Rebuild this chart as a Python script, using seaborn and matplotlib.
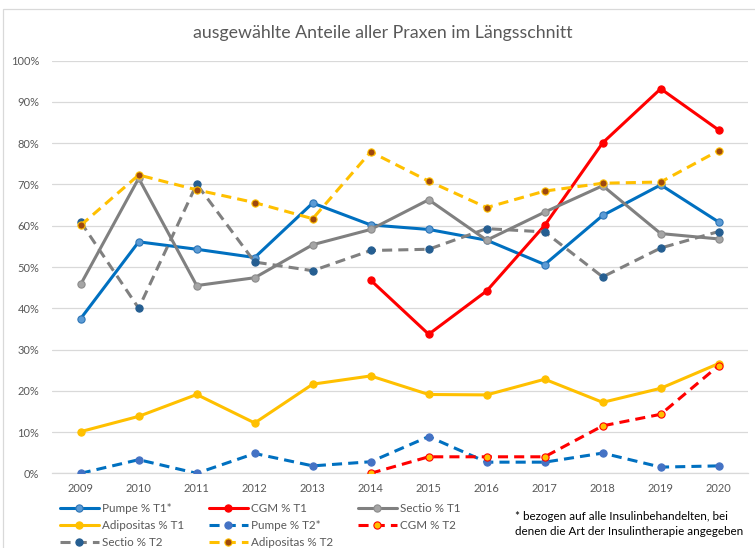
import matplotlib
matplotlib.use("Agg")
import matplotlib.pyplot as plt
from matplotlib.lines import Line2D
from matplotlib.patches import Rectangle
import seaborn as sns
import numpy as np
import pandas as pd

years = [2009, 2010, 2011, 2012, 2013, 2014, 2015, 2016, 2017, 2018, 2019, 2020]
nan = np.nan
pumpe_t1 = [37.5, 56.1, 54.3, 52.3, 65.5, 60.2, 59.1, 56.5, 50.6, 62.5, 69.9, 60.9]
cgm_t1 = [nan, nan, nan, nan, nan, 46.8, 33.7, 44.2, 60.1, 80.1, 93.2, 83.2]
sectio_t1 = [45.8, 71.5, 45.5, 47.4, 55.4, 59.1, 66.3, 56.5, 63.3, 69.7, 58.1, 56.8]
adipositas_t1 = [10.1, 13.8, 19.1, 12.2, 21.6, 23.6, 19.1, 19.0, 22.8, 17.2, 20.6, 26.6]
pumpe_t2 = [0.0, 3.3, 0.0, 4.8, 1.8, 2.8, 8.9, 2.7, 2.7, 4.9, 1.5, 1.8]
cgm_t2 = [nan, nan, nan, nan, nan, 0.0, 4.0, 4.0, 4.0, 11.5, 14.3, 26.1]
sectio_t2 = [60.9, 40.0, 70.1, 51.2, 49.1, 54.0, 54.3, 59.3, 58.5, 47.6, 54.6, 58.6]
adipositas_t2 = [60.1, 72.3, 68.7, 65.6, 61.7, 77.9, 70.8, 64.4, 68.4, 70.3, 70.6, 78.2]

title = "ausgewählte Anteile aller Praxen im Längsschnitt"
note = "* bezogen auf alle Insulinbehandelten, bei\ndenen die Art der Insulintherapie angegeben"

sns.set_style("white")
plt.rcParams['font.family'] = ['Lato', 'DejaVu Sans']

W, H = 755, 548
fig = plt.figure(figsize=(W / 100, H / 100), dpi=100)
ax = fig.add_axes([51.7 / W, 1 - 473.3 / H, (747.7 - 51.7) / W, (473.3 - 60.7) / H])

dash = (0, (3.3, 2.0))
series = [
    ("Pumpe % T1*", pumpe_t1, "#0070C0", "-", "#5B9BD5", "#2E75B6"),
    ("CGM % T1", cgm_t1, "#FF0000", "-", "#FF0000", "#FF0000"),
    ("Sectio % T1", sectio_t1, "#808080", "-", "#A5A5A5", "#8C8C8C"),
    ("Adipositas % T1", adipositas_t1, "#FFC000", "-", "#FFC000", "#FFC000"),
    ("Pumpe % T2*", pumpe_t2, "#0070C0", dash, "#4472C4", "#4472C4"),
    ("CGM % T2", cgm_t2, "#FF0000", dash, "#FFC000", "#FF0000"),
    ("Sectio % T2", sectio_t2, "#808080", dash, "#255E91", "#255E91"),
    ("Adipositas % T2", adipositas_t2, "#FFC000", dash, "#9E480E", "#FFC000"),
]

handles = {}
for name, vals, col, ls, mfc, mec in series:
    df = pd.DataFrame({"Jahr": years, "Wert": vals}).dropna()
    sns.lineplot(data=df, x="Jahr", y="Wert", ax=ax, color=col, linestyle=ls,
                 linewidth=2.2, marker="o", markersize=5.2, markerfacecolor=mfc,
                 markeredgecolor=mec, markeredgewidth=0.8, zorder=3)
    handles[name] = Line2D([], [], color=col, linestyle=ls, linewidth=2.2, marker="o",
                           markersize=5.2, markerfacecolor=mfc, markeredgecolor=mec,
                           markeredgewidth=0.8)

ax.set_xlim(2008.5, 2020.5)
ax.set_ylim(0, 100)
ax.set_xticks(years)
ax.set_xticklabels([str(y) for y in years])
ax.set_yticks(range(0, 101, 10))
ax.set_yticklabels([f"{v}%" for v in range(0, 101, 10)])
ax.set_xlabel("")
ax.set_ylabel("")
ax.grid(axis="y", color="#D9D9D9", linewidth=0.9)
ax.grid(axis="x", visible=False)
for s in ["top", "right", "left"]:
    ax.spines[s].set_visible(False)
ax.spines["bottom"].set_color("#D9D9D9")
ax.spines["bottom"].set_linewidth(0.9)
ax.tick_params(axis="both", length=0, labelsize=8, colors="#595959")
ax.tick_params(axis="y", pad=9)
ax.tick_params(axis="x", pad=7)
ax.set_axisbelow(True)

fig.text(382.5 / W, 1 - 33 / H, title, ha="center", va="center", fontsize=12.8, color="#595959")

cols = [["Pumpe % T1*", "Adipositas % T1", "Sectio % T2"],
        ["CGM % T1", "Pumpe % T2*", "Adipositas % T2"],
        ["Sectio % T1", "CGM % T2"]]
xs = [60, 209, 358]
for xpos, names in zip(xs, cols):
    fig.legend([handles[n] for n in names], names, loc="upper left",
               bbox_to_anchor=(xpos / W, 1 - 503 / H), frameon=False, fontsize=8.4,
               labelcolor="#595959", handlelength=3.3, handletextpad=0.3,
               borderpad=0, borderaxespad=0, labelspacing=0.5)

fig.text(515 / W, 1 - 511 / H, note, ha="left", va="top", fontsize=8.4,
         color="#000000", linespacing=1.45)

fig.patches.append(Rectangle((3 / W, -0.1), 1.2, 1 - 9 / H + 0.1, transform=fig.transFigure,
                             fill=False, edgecolor="#D9D9D9", linewidth=0.9))

fig.savefig("out.png", dpi=100)
